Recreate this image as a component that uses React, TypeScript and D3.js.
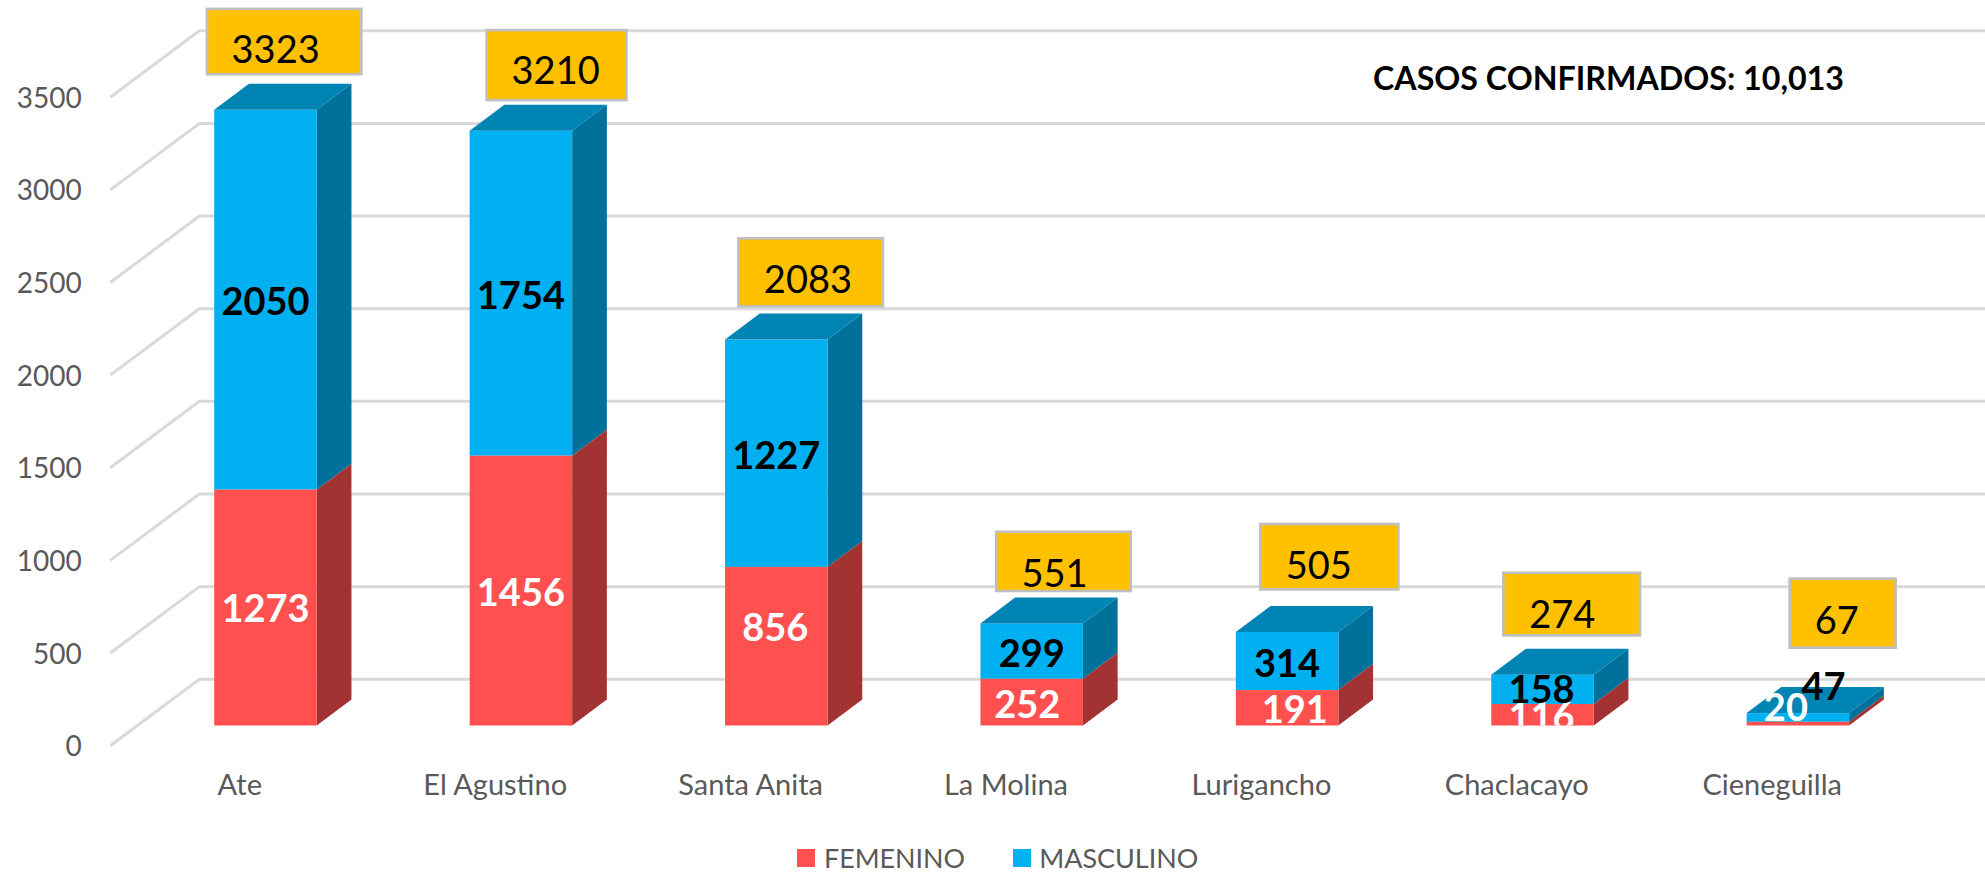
import React from "react";
import * as d3 from "d3";

// ---- data ----
const categories = ["Ate", "El Agustino", "Santa Anita", "La Molina", "Lurigancho", "Chaclacayo", "Cieneguilla"];
const femenino = [1273, 1456, 856, 252, 191, 116, 20];
const masculino = [2050, 1754, 1227, 299, 314, 158, 47];
const totals = [3323, 3210, 2083, 551, 505, 274, 67];
const yTicks = [0, 500, 1000, 1500, 2000, 2500, 3000, 3500];
const seriesNames = ["FEMENINO", "MASCULINO"];
const annotation = "CASOS CONFIRMADOS: 10,013";

// ---- layout (hand-placed callouts and labels in the reference) ----
const W = 1985, H = 873;
const depthX = 34.7, depthY = 26;
const backX = 61.5, backY = 46.2;      // bar front plane -> chart back wall
const frontX = 27.5, frontY = 20.2;    // bar front plane -> chart front edge
const barW = 102.5;
const boxDx = [-7.3, 17, 13.3, 15.8, 24.5, 12, 43];
const boxDy = [-100.9, -100.6, -101.2, -91.7, -107.9, -102, -134.4];
const boxW = [154.4, 139.8, 144.6, 134.5, 138, 136.8, 106];
const boxH = [65.3, 70, 68, 59.3, 65.3, 62.6, 69];
const boxTextDx = [68.7, 69, 69.6, 58.2, 58.5, 59, 47.2];
const boxTextDy = [54, 54.3, 55, 55.3, 54.7, 55, 55];
const femNudgeX = [0, 0, -1, -4.5, 7.7, -1, -12];
const femNudgeY = [-1, 0, -21, 0, 0, 0, -18];
const masNudgeX = [0, 0, 0, 0, 0, -1, 25.6];
const masNudgeY = [0, 0, 0, 0, 0, -2, -33];

const FONT = "Lato, 'Open Sans', sans-serif";
const RED = "#FF5050", RED_SIDE = "#A33232";
const BLUE = "#00B0F0", BLUE_TOP = "#0084B4", BLUE_SIDE = "#00719A";
const GRID = "#D9D9D9", MUTED = "#595959";

const x = d3.scaleBand<string>().domain(categories).range([137.8, 137.8 + 255.4 * 7]).padding(0);
const y = d3.scaleLinear().domain([0, 3500]).range([725.5, 77]);

const poly = (pts: [number, number][]) => d3.line()(pts) + "Z";

export default function App() {
  const femStack = femenino.map((v) => [0, v]);
  const masStack = masculino.map((v, i) => [femenino[i], femenino[i] + v]);
  const left = (i: number) => x(categories[i])! + (x.bandwidth() - barW) / 2;

  const bar = (i: number, lo: number, hi: number, front: string, side: string) => {
    const l = left(i), r = l + barW, t = y(hi), b = y(lo);
    return (
      <g key={`${i}-${lo}`}>
        <path d={poly([[r, t], [r + depthX, t - depthY], [r + depthX, b - depthY], [r, b]])} fill={side} />
        <rect x={l} y={t} width={barW} height={b - t} fill={front} />
      </g>
    );
  };

  return (
    <svg width={W} height={H} viewBox={`0 0 ${W} ${H}`} fontFamily={FONT}
      style={{ position: "absolute", left: 0, top: 0, display: "block", background: "#fff" }}>
      <defs>
        <clipPath id="floor"><rect x={0} y={0} width={W} height={y(0)} /></clipPath>
      </defs>

      {/* gridlines */}
      {yTicks.map((t) => (
        <path key={t} fill="none" stroke={GRID} strokeWidth={3} 
          d={d3.line()([
            [x.range()[0] - frontX, y(t) + frontY],
            [x.range()[0] + backX, y(t) - backY],
            [W, y(t) - backY],
          ])!} />
      ))}

      {/* y axis labels */}
      {yTicks.map((t) => (
        <text key={t} x={81.7} y={y(t) + frontY + 10.6} textAnchor="end" fontSize={28} fill={MUTED}>{t}</text>
      ))}

      {/* bars */}
      {categories.map((c, i) => {
        const top = y(masStack[i][1]);
        const l = left(i), r = l + barW;
        return (
          <g key={c}>
            {bar(i, masStack[i][0], masStack[i][1], BLUE, BLUE_SIDE)}
            {bar(i, femStack[i][0], femStack[i][1], RED, RED_SIDE)}
            <path d={poly([[l, top], [l + depthX, top - depthY], [r + depthX, top - depthY], [r, top]])} fill={BLUE_TOP} />
          </g>
        );
      })}

      {/* category labels */}
      {categories.map((c, i) => (
        <text key={c} x={left(i) + barW / 2 - 25.7} y={795} textAnchor="middle" fontSize={29} fill={MUTED}>{c}</text>
      ))}

      {/* segment labels */}
      <g clipPath="url(#floor)" fontWeight={700} fontSize={38} textAnchor="middle">
        {femenino.map((v, i) => (
          <text key={i} x={left(i) + barW / 2 + femNudgeX[i]} y={y(v / 2) + 15.5 + femNudgeY[i]} fill="#fff">{v}</text>
        ))}
        {masculino.map((v, i) => (
          <text key={i} x={left(i) + barW / 2 + masNudgeX[i]}
            y={y(femenino[i] + v / 2) + 15.5 + masNudgeY[i]} fill="#000">{v}</text>
        ))}
      </g>

      {/* total callouts */}
      {totals.map((v, i) => {
        const bx = left(i) + boxDx[i], by = y(v) + boxDy[i];
        return (
          <g key={i}>
            <rect x={bx} y={by} width={boxW[i]} height={boxH[i]} fill="#FFC000" stroke="#BFBFBF" strokeWidth={2.6} />
            <text x={bx + boxTextDx[i]} y={by + boxTextDy[i]} textAnchor="middle" fontSize={38} fill="#000">{v}</text>
          </g>
        );
      })}

      {/* annotation */}
      <text x={1373} y={89.8} fontWeight={700} fontSize={33} fill="#000" textLength={471} lengthAdjust="spacingAndGlyphs">{annotation}</text>

      {/* legend */}
      <rect x={797} y={849} width={18} height={18} fill={RED} />
      <text x={824} y={867.5} fontSize={27.5} fill={MUTED} textLength={141} lengthAdjust="spacingAndGlyphs">{seriesNames[0]}</text>
      <rect x={1013} y={849} width={18} height={18} fill={BLUE} />
      <text x={1039.3} y={867.5} fontSize={27.5} fill={MUTED} textLength={159} lengthAdjust="spacingAndGlyphs">{seriesNames[1]}</text>
    </svg>
  );
}
